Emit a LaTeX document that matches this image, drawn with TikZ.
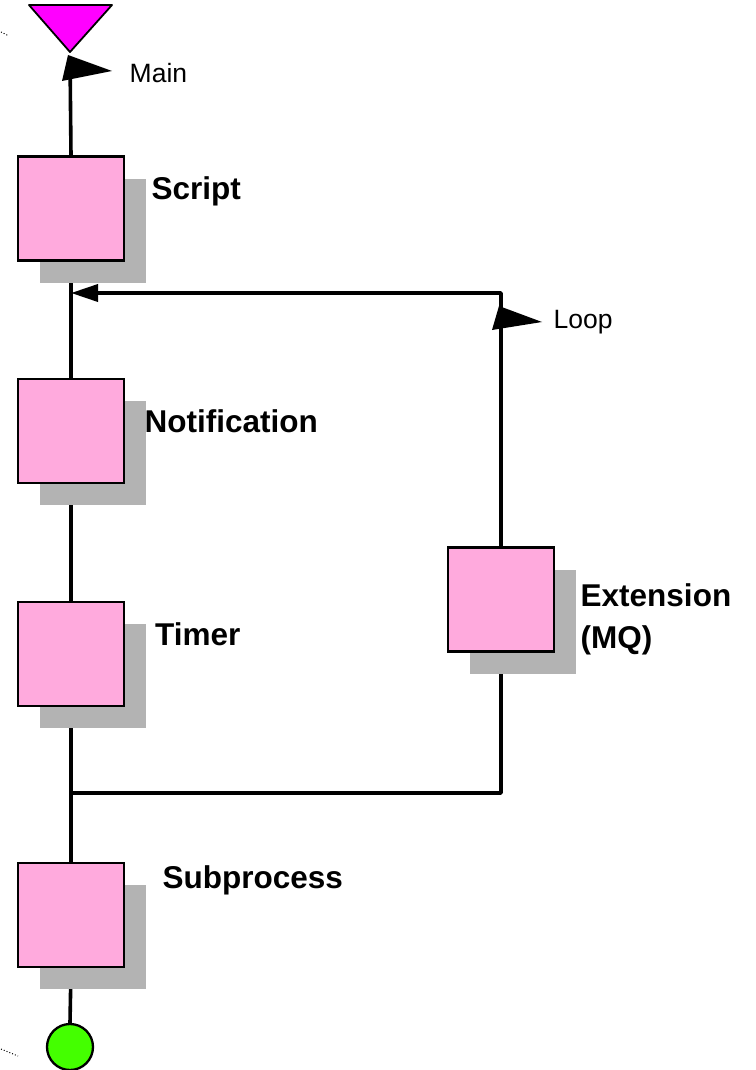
\documentclass[tikz,border=0pt]{standalone}
\usepackage{fontspec}
\setmainfont{Liberation Sans}
\usetikzlibrary{arrows.meta,shadows,backgrounds}
\definecolor{boxpink}{HTML}{FFAADD}
\definecolor{shadowgray}{HTML}{B3B3B3}
\definecolor{startmag}{HTML}{FF00FF}
\definecolor{endgreen}{HTML}{44FF00}
\tikzset{
  stepbox/.style={draw=black, line width=2.3pt, fill=boxpink, minimum width=106pt, minimum height=104pt, inner sep=0pt,
    general shadow={fill=shadowgray, shadow xshift=22pt, shadow yshift=-22pt}},
  boxlabel/.style={anchor=base west, inner sep=0pt, font=\fontsize{31.5}{36}\selectfont\bfseries},
  flaglabel/.style={anchor=base west, inner sep=0pt, font=\fontsize{26.5}{30}\selectfont},
  conn/.style={line width=3.6pt},
  flagtip/.style={fill=black}
}
\begin{document}
\begin{tikzpicture}[x=1pt, y=-1pt]
\useasboundingbox (0,0) rectangle (755,1070);
% start triangle
\draw[line width=1.8pt, fill=startmag, line join=round] (29,5) -- (112,5) -- (70,52) -- cycle;
\coordinate (mainend) at (70,57);
% boxes
\node[stepbox] (script) at (71,208.5) {};
\node[stepbox] (notif) at (71,431) {};
\node[stepbox] (timer) at (71,654) {};
\node[stepbox] (subproc) at (71,915) {};
\node[stepbox] (ext) at (501,599.5) {};
\node[draw=black, line width=2.3pt, fill=endgreen, circle, minimum size=46pt, inner sep=0pt] (endc) at (70,1047) {};
% labels
\node[boxlabel] (lscript) at (151.5,199) {Script};
\node[boxlabel] (lnotif) at (144.5,432) {Notification};
\node[boxlabel] (ltimer) at (155,645) {Timer};
\node[boxlabel] (lsub) at (162.5,888) {Subprocess};
\node[boxlabel] (lext1) at (580.5,606) {Extension};
\node[boxlabel] (lext2) at (580.5,648) {(MQ)};
\node[flaglabel] (lmain) at (129.5,83) {Main};
\node[flaglabel] (lloop) at (553.5,328) {Loop};
% junctions
\coordinate (jtop) at (71,293);
\coordinate (jbot) at (71,793);
% connectors (behind boxes and shadows)
\begin{pgfonlayer}{background}
\draw[conn] (script.north) -- (mainend);
\draw[conn] (script.south) -- (notif.north);
\draw[conn] (notif.south) -- (timer.north);
\draw[conn] (timer.south) -- (subproc.north);
\draw[conn] (subproc.south) -- (endc.north);
\draw[conn, line join=round] (ext.south) -- (ext.south |- jbot) -- (jbot);
\draw[conn, line join=round, -{Triangle[length=27pt, width=17pt]}] (ext.north) -- (ext.north |- jtop) -- (jtop);
\end{pgfonlayer}
% flag arrow heads
\fill[flagtip] (68,55) -- (62,81) -- (112,71) -- cycle;
\fill[flagtip] (499,306) -- (492,330) -- (542,322) -- cycle;
% small dotted marks
\draw[line width=1pt, dotted] (1,32) -- (9,36);
\draw[line width=1pt, dotted] (1,1049) -- (18,1056);
\end{tikzpicture}
\end{document}
